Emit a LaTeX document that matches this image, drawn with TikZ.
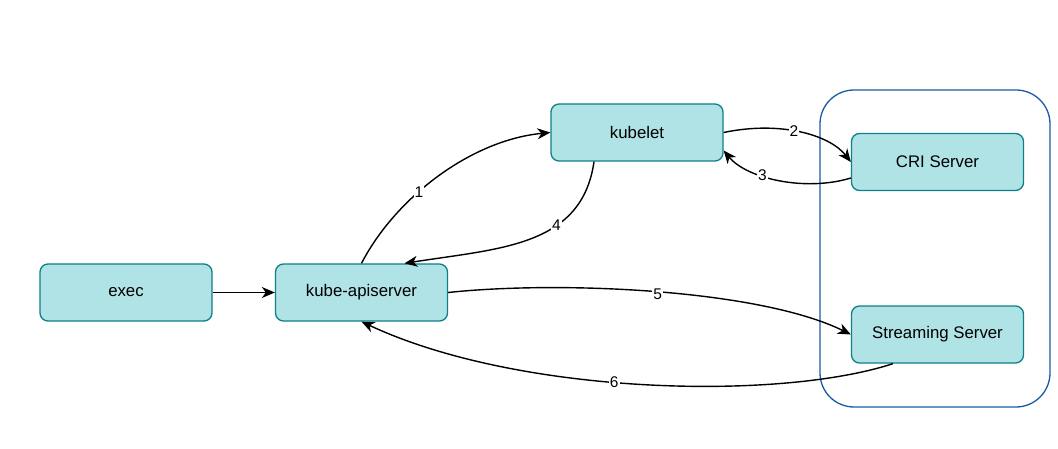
\documentclass[tikz,border=0pt]{standalone}
\usepackage{fontspec}
\setmainfont{Liberation Sans}
\usetikzlibrary{arrows.meta}
\definecolor{boxfill}{HTML}{B0E3E6}
\definecolor{boxline}{HTML}{0E8088}
\definecolor{grpline}{HTML}{1A5AA5}
\tikzset{
  box/.style={draw=boxline, fill=boxfill, line width=1.3pt, rounded corners=8pt,
    minimum width=172pt, minimum height=57pt, inner sep=0pt,
    font=\fontsize{16.8}{20}\selectfont},
  conn/.style={line width=1.4pt, -{Stealth[length=13pt,width=11pt,inset=4pt]}},
  lab/.style={fill=white, inner sep=1pt, font=\fontsize{15.5}{18}\selectfont},
}
\begin{document}
\begin{tikzpicture}[x=1pt,y=-1pt]
\useasboundingbox (0,0) rectangle (1058,449);
\node[draw=grpline, line width=1.3pt, rounded corners=34pt, minimum width=230pt, minimum height=317pt, inner sep=0pt] (grp) at (935,248.5) {};
\node[box] (exec) at (126,292.5) {exec};
\node[box] (api) at (361.5,292.5) {kube-apiserver};
\node[box] (kubelet) at (637,132.5) {kubelet};
\node[box] (cri) at (937.5,162) {CRI Server};
\node[box] (stream) at (937.5,334.5) {Streaming Server};
\draw[conn] (exec) -- (api);
\draw[conn] (api.north) .. controls +(33,-64) and +(-81,8) .. node[lab,pos=0.4] {1} (kubelet.west);
\draw[conn] (kubelet.east) .. controls +(57,-12) and +(-21,-27) .. node[lab,pos=0.45] {2} (cri.west);
\draw[conn] ([yshift=-16pt]cri.west) .. controls +(-46,14) and +(23,28) .. node[lab,pos=0.62] {3} ([yshift=-18pt]kubelet.east);
\draw[conn] ([xshift=-43pt]kubelet.south) .. controls +(-12,85) and +(95,-15) .. node[lab,pos=0.36] {4} ([xshift=43pt]api.north);
\draw[conn] (api.east) .. controls +(113,-12) and +(-91,-45) .. node[lab,pos=0.5,yshift=-2pt] {5} (stream.west);
\draw[conn] ([xshift=-44.5pt]stream.south) .. controls +(-113,37) and +(158,74) .. node[lab,pos=0.55] {6} (api.south);
\end{tikzpicture}
\end{document}
